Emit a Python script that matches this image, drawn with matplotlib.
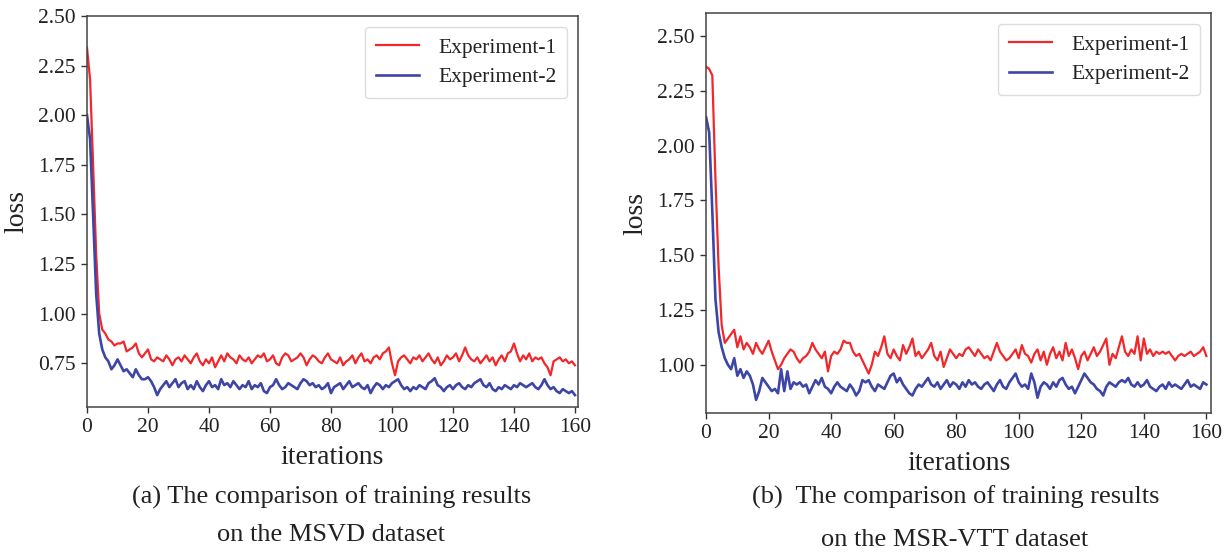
import matplotlib
matplotlib.use("Agg")
import matplotlib.pyplot as plt
import numpy as np

plt.rcParams['font.family'] = ['Liberation Serif', 'DejaVu Serif']

# iterations 0..160
iters = list(range(161))

# (a) MSVD
msvd_exp1 = [2.34, 2.18, 1.75, 1.30, 1.00, 0.92, 0.90, 0.87, 0.86, 0.84,
             0.85, 0.85, 0.86, 0.81, 0.82, 0.83, 0.85, 0.80, 0.78, 0.80,
             0.82, 0.77, 0.76, 0.78, 0.77, 0.76, 0.79, 0.77, 0.74, 0.77,
             0.78, 0.76, 0.79, 0.77, 0.75, 0.78, 0.80, 0.76, 0.74, 0.77,
             0.75, 0.78, 0.73, 0.76, 0.79, 0.76, 0.80, 0.78, 0.77, 0.75,
             0.79, 0.77, 0.76, 0.78, 0.75, 0.77, 0.79, 0.78, 0.80, 0.76,
             0.77, 0.79, 0.75, 0.74, 0.78, 0.80, 0.79, 0.76, 0.77, 0.78,
             0.80, 0.78, 0.74, 0.77, 0.79, 0.78, 0.76, 0.75, 0.78, 0.80,
             0.77, 0.76, 0.75, 0.78, 0.74, 0.76, 0.77, 0.79, 0.75, 0.78,
             0.80, 0.76, 0.77, 0.75, 0.78, 0.79, 0.77, 0.80, 0.81, 0.83,
             0.75, 0.69, 0.76, 0.78, 0.79, 0.77, 0.75, 0.78, 0.77, 0.79,
             0.76, 0.78, 0.80, 0.77, 0.75, 0.78, 0.74, 0.76, 0.79, 0.77,
             0.78, 0.80, 0.76, 0.79, 0.83, 0.79, 0.77, 0.76, 0.78, 0.75,
             0.77, 0.79, 0.76, 0.78, 0.74, 0.77, 0.79, 0.76, 0.80, 0.81,
             0.85, 0.80, 0.76, 0.79, 0.77, 0.80, 0.76, 0.78, 0.77, 0.78,
             0.75, 0.73, 0.69, 0.76, 0.77, 0.78, 0.76, 0.77, 0.75, 0.76, 0.74]
msvd_exp2 = [2.00, 1.88, 1.50, 1.10, 0.90, 0.82, 0.78, 0.76, 0.72, 0.74,
             0.77, 0.74, 0.71, 0.72, 0.70, 0.68, 0.72, 0.69, 0.67, 0.67,
             0.68, 0.66, 0.63, 0.59, 0.62, 0.64, 0.66, 0.63, 0.65, 0.67,
             0.63, 0.65, 0.66, 0.62, 0.64, 0.62, 0.66, 0.63, 0.61, 0.64,
             0.66, 0.63, 0.64, 0.62, 0.67, 0.64, 0.65, 0.63, 0.66, 0.64,
             0.62, 0.64, 0.63, 0.66, 0.62, 0.64, 0.63, 0.65, 0.61, 0.60,
             0.63, 0.64, 0.67, 0.64, 0.62, 0.63, 0.65, 0.64, 0.63, 0.62,
             0.65, 0.67, 0.66, 0.64, 0.65, 0.63, 0.64, 0.62, 0.63, 0.65,
             0.60, 0.63, 0.64, 0.65, 0.62, 0.64, 0.66, 0.63, 0.64, 0.65,
             0.63, 0.62, 0.64, 0.60, 0.63, 0.65, 0.64, 0.62, 0.64, 0.63,
             0.65, 0.66, 0.67, 0.64, 0.62, 0.63, 0.61, 0.63, 0.62, 0.64,
             0.63, 0.62, 0.65, 0.66, 0.675, 0.64, 0.63, 0.61, 0.63, 0.64,
             0.62, 0.64, 0.65, 0.63, 0.62, 0.64, 0.63, 0.65, 0.66, 0.67,
             0.64, 0.63, 0.65, 0.62, 0.61, 0.63, 0.62, 0.64, 0.63, 0.62,
             0.64, 0.63, 0.65, 0.64, 0.63, 0.64, 0.65, 0.63, 0.62, 0.64,
             0.67, 0.64, 0.62, 0.63, 0.61, 0.60, 0.62, 0.61, 0.60, 0.61, 0.59]

# (b) MSR-VTT
msrvtt_exp1 = [2.36, 2.35, 2.32, 1.85, 1.45, 1.18, 1.10, 1.12, 1.14, 1.16,
               1.08, 1.13, 1.07, 1.10, 1.08, 1.05, 1.10, 1.07, 1.05, 1.08,
               1.11, 1.06, 1.02, 0.98, 1.00, 1.03, 1.05, 1.07, 1.06, 1.03,
               1.01, 1.03, 1.04, 1.06, 1.10, 1.07, 1.05, 1.03, 1.06, 0.97,
               1.04, 1.06, 1.05, 1.07, 1.11, 1.10, 1.10, 1.06, 1.04, 1.05,
               1.02, 0.99, 0.96, 1.00, 1.06, 1.04, 1.08, 1.13, 1.05, 1.03,
               1.07, 1.04, 1.02, 1.09, 1.05, 1.08, 1.12, 1.04, 1.06, 1.03,
               1.05, 1.07, 1.10, 1.04, 1.02, 1.06, 0.99, 1.03, 1.07, 1.05,
               1.03, 1.05, 1.04, 1.07, 1.08, 1.06, 1.04, 1.07, 1.05, 1.03,
               1.04, 1.02, 1.06, 1.10, 1.06, 1.04, 1.02, 1.03, 1.05, 1.07,
               1.03, 1.09, 1.05, 1.04, 1.01, 1.05, 1.07, 1.02, 1.06, 1.00,
               1.05, 1.08, 1.03, 1.06, 1.02, 1.10, 1.04, 1.07, 1.03, 0.98,
               1.04, 1.06, 1.02, 1.05, 1.08, 1.04, 1.06, 1.09, 1.12, 1.00,
               1.05, 1.03, 1.08, 1.13, 1.06, 1.04, 1.07, 1.05, 1.13, 1.02,
               1.12, 1.05, 1.07, 1.04, 1.06, 1.05, 1.06, 1.05, 1.06, 1.04,
               1.02, 1.04, 1.05, 1.04, 1.05, 1.06, 1.04, 1.05, 1.06, 1.08, 1.04]
msrvtt_exp2 = [2.13, 2.06, 1.70, 1.30, 1.15, 1.08, 1.03, 1.00, 0.98, 1.03,
               0.95, 0.98, 0.94, 0.97, 0.95, 0.91, 0.84, 0.88, 0.94, 0.92,
               0.90, 0.88, 0.89, 0.87, 0.98, 0.88, 0.97, 0.89, 0.92, 0.91,
               0.92, 0.90, 0.91, 0.87, 0.90, 0.93, 0.91, 0.94, 0.90, 0.89,
               0.87, 0.90, 0.92, 0.90, 0.89, 0.88, 0.91, 0.89, 0.86, 0.88,
               0.93, 0.92, 0.93, 0.90, 0.88, 0.91, 0.90, 0.89, 0.92, 0.95,
               0.96, 0.92, 0.94, 0.91, 0.89, 0.87, 0.86, 0.89, 0.91, 0.90,
               0.92, 0.94, 0.91, 0.90, 0.92, 0.89, 0.91, 0.93, 0.90, 0.92,
               0.91, 0.89, 0.92, 0.90, 0.93, 0.91, 0.92, 0.90, 0.89, 0.91,
               0.92, 0.90, 0.88, 0.91, 0.93, 0.90, 0.89, 0.92, 0.94, 0.96,
               0.92, 0.90, 0.91, 0.89, 0.96, 0.92, 0.85, 0.90, 0.92, 0.91,
               0.89, 0.92, 0.90, 0.93, 0.94, 0.91, 0.89, 0.90, 0.87, 0.90,
               0.93, 0.96, 0.94, 0.92, 0.91, 0.89, 0.88, 0.86, 0.90, 0.92,
               0.91, 0.90, 0.92, 0.93, 0.92, 0.94, 0.91, 0.90, 0.92, 0.90,
               0.91, 0.93, 0.90, 0.89, 0.88, 0.90, 0.91, 0.89, 0.92, 0.90,
               0.91, 0.90, 0.89, 0.91, 0.93, 0.90, 0.91, 0.90, 0.89, 0.92, 0.91]

labels = ['Experiment-1', 'Experiment-2']
xticks = [0, 20, 40, 60, 80, 100, 120, 140, 160]
red = '#f2272a'
blue = '#3d46a6'
txt = '#222222'

fig = plt.figure(figsize=(12.29, 5.52), dpi=100)

ax1 = fig.add_axes([0.0708, 0.2627, 0.3995, 0.7083])
ax2 = fig.add_axes([0.5745, 0.2518, 0.4109, 0.7246])

panels = [
    (ax1, msvd_exp1, msvd_exp2, (0.53, 2.50), np.arange(0.75, 2.51, 0.25), 161),
    (ax2, msrvtt_exp1, msrvtt_exp2, (0.78, 2.605), np.arange(1.00, 2.51, 0.25), 161.5),
]

for ax, e1, e2, ylim, yt, xmax in panels:
    ax.plot(iters, e1, color=red, lw=1.6, label=labels[0])
    ax.plot(iters, e2, color=blue, lw=1.9, label=labels[1])
    ax.set_xlim(0, xmax)
    ax.set_ylim(*ylim)
    ax.set_xticks(xticks)
    ax.set_yticks(yt)
    ax.set_yticklabels(['%.2f' % v for v in yt])
    ax.tick_params(labelsize=15.5, length=4, width=1, color='#333333',
                   labelcolor=txt, pad=4)
    for s in ax.spines.values():
        s.set_color('#444444')
        s.set_linewidth(1.1)
    ax.set_xlabel('iterations', fontsize=20, labelpad=6, color=txt)
    ax.set_ylabel('loss', fontsize=20, labelpad=6, color=txt)
    leg = ax.legend(loc='upper right', fontsize=15.5, handlelength=2.0,
                    handletextpad=0.9, borderpad=0.5, labelspacing=0.45,
                    fancybox=True, framealpha=1, edgecolor='#dddddd')
    for t in leg.get_texts():
        t.set_color(txt)

fig.text(0.270, 0.100, '(a) The comparison of training results', ha='center', va='center', fontsize=19, color=txt)
fig.text(0.269, 0.031, 'on the MSVD dataset', ha='center', va='center', fontsize=19, color=txt)
fig.text(0.778, 0.100, '(b)  The comparison of training results', ha='center', va='center', fontsize=19, color=txt)
fig.text(0.777, 0.022, 'on the MSR-VTT dataset', ha='center', va='center', fontsize=19, color=txt)

fig.savefig('out.png', dpi=100)
